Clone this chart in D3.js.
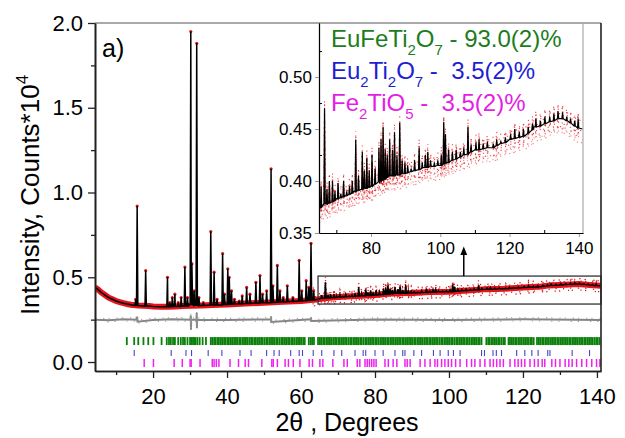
<!DOCTYPE html>
<html>
<head>
<meta charset="utf-8">
<script src="https://cdnjs.cloudflare.com/ajax/libs/d3/7.8.5/d3.min.js"></script>
<style>
  body { margin: 0; background: #fff; }
  text { font-family: "Liberation Sans", Arial, sans-serif; }
</style>
</head>
<body>
<svg id="chart" width="625" height="438"></svg>
<script>
//==================== data (2theta in degrees, intensity in counts*10^4) ====================
var bgX = [4.3, 5, 6, 7, 8, 9, 10, 11, 12, 13, 14, 16, 19, 20, 22, 24, 26, 28, 33, 36, 40, 45, 50, 55, 60, 64,
  67, 70, 75, 80, 85, 90, 95, 100, 105, 110, 115, 120, 125, 127, 130, 135, 138, 141.1];
var bgY = [0.44, 0.43, 0.41, 0.395, 0.38, 0.37, 0.36, 0.353, 0.347, 0.342, 0.338, 0.333, 0.33, 0.327, 0.326, 0.326, 0.328, 0.33, 0.333, 0.336, 0.34, 0.345, 0.35, 0.355, 0.36, 0.368,
  0.378, 0.383, 0.39, 0.395, 0.405, 0.407, 0.413, 0.415, 0.422, 0.43, 0.432, 0.44, 0.445, 0.452, 0.455, 0.46, 0.455, 0.45];

// [position, top, base]
var peaks = [
  [15.3, 0.37, 0.334], [15.7, 0.92, 0.334], [18.0, 0.54, 0.33], [23.9, 0.50, 0.326], [24.5, 0.35, 0.326],
  [25.2, 0.38, 0.327], [25.9, 0.40, 0.327], [26.8, 0.35, 0.328], [27.6, 0.38, 0.329], [28.6, 0.56, 0.33],
  [29.3, 0.38, 0.33], [30.2, 1.95, 0.34], [30.5, 0.58, 0.34], [31.1, 0.42, 0.335], [31.8, 1.88, 0.335],
  [32.4, 0.38, 0.333], [33.6, 0.35, 0.333], [35.6, 0.77, 0.336], [36.5, 0.53, 0.336], [37.3, 0.37, 0.337],
  [38.8, 0.64, 0.338], [39.3, 0.40, 0.339], [40.2, 0.55, 0.34], [40.6, 0.50, 0.34], [41.2, 0.42, 0.341],
  [42.0, 0.37, 0.342], [43.3, 0.36, 0.343], [44.1, 0.39, 0.344], [45.3, 0.44, 0.345], [46.2, 0.40, 0.346],
  [47.8, 0.47, 0.348], [48.9, 0.51, 0.349], [49.6, 0.40, 0.35], [50.7, 0.42, 0.35], [51.9, 1.14, 0.351],
  [52.4, 0.45, 0.352], [53.6, 0.57, 0.353], [54.3, 0.42, 0.354], [55.2, 0.38, 0.355], [56.3, 0.45, 0.356],
  [57.8, 0.38, 0.358], [59.5, 0.60, 0.36], [60.2, 0.42, 0.36], [61.4, 0.48, 0.362], [62.1, 0.44, 0.364],
  [62.7, 0.70, 0.365], [63.4, 0.42, 0.367],
  [65.6, 0.395, 0.375], [66.6, 0.47, 0.378], [67.3, 0.392, 0.378], [68.0, 0.40, 0.379], [68.9, 0.40, 0.38],
  [69.6, 0.39, 0.381], [70.5, 0.398, 0.383], [71.3, 0.388, 0.384], [72.1, 0.40, 0.385], [73.0, 0.39, 0.386],
  [73.8, 0.395, 0.387], [74.6, 0.40, 0.388], [75.6, 0.44, 0.39], [76.4, 0.405, 0.391], [77.5, 0.428, 0.392],
  [78.1, 0.41, 0.393], [78.8, 0.422, 0.393], [79.5, 0.41, 0.394], [80.3, 0.425, 0.395], [81.2, 0.412, 0.397],
  [82.3, 0.432, 0.399], [82.9, 0.44, 0.4], [83.5, 0.452, 0.401], [84.1, 0.43, 0.402], [84.7, 0.425, 0.403],
  [85.4, 0.44, 0.405], [86.2, 0.43, 0.405], [86.8, 0.447, 0.405], [87.5, 0.425, 0.406], [88.3, 0.456, 0.406],
  [89.0, 0.42, 0.407], [89.8, 0.418, 0.407], [90.6, 0.415, 0.408], [91.6, 0.412, 0.409], [92.6, 0.42, 0.41],
  [93.9, 0.432, 0.411], [94.8, 0.418, 0.412], [95.7, 0.425, 0.413], [96.4, 0.428, 0.413], [97.2, 0.42, 0.414],
  [98.3, 0.418, 0.414], [99.3, 0.42, 0.415], [100.3, 0.425, 0.415], [101.0, 0.457, 0.416], [101.5, 0.445, 0.417],
  [102.4, 0.43, 0.418], [103.5, 0.428, 0.42], [104.6, 0.43, 0.421], [105.8, 0.428, 0.423], [106.8, 0.432, 0.425],
  [108.0, 0.452, 0.426], [108.9, 0.435, 0.428], [110.3, 0.437, 0.43], [111.2, 0.44, 0.43], [112.4, 0.436, 0.431],
  [113.6, 0.438, 0.432], [115.3, 0.436, 0.432], [116.3, 0.44, 0.434], [117.5, 0.438, 0.436], [118.8, 0.442, 0.437],
  [120.3, 0.445, 0.44], [121.5, 0.45, 0.441], [122.8, 0.447, 0.442], [124.0, 0.45, 0.443], [125.4, 0.452, 0.446],
  [126.6, 0.455, 0.449], [127.6, 0.46, 0.452], [128.9, 0.458, 0.453], [130.2, 0.462, 0.455], [131.6, 0.462, 0.457],
  [132.8, 0.465, 0.458], [134.0, 0.467, 0.46], [135.3, 0.466, 0.46], [136.5, 0.462, 0.458], [137.6, 0.46, 0.456],
  [138.8, 0.458, 0.453], [139.8, 0.46, 0.451]
];

// obs - calc difference
var diffX = [4.3, 8, 12, 15.6, 15.7, 15.8, 20, 25, 30.15, 30.2, 30.25, 30.3, 31.75, 31.8, 31.85, 31.9,
  40, 51.85, 51.9, 51.95, 62.65, 62.7, 62.75, 80, 100, 120, 141];
var diffY = [0.25, 0.246, 0.252, 0.25, 0.268, 0.238, 0.248, 0.252, 0.25, 0.275, 0.19, 0.25, 0.25, 0.29, 0.20, 0.25,
  0.248, 0.252, 0.27, 0.236, 0.252, 0.264, 0.242, 0.251, 0.248, 0.252, 0.248];

// Bragg positions
var greenTicks = [12.9, 14.9, 16.0, 17.4, 18.7, 20.1, 22.3, 23.7, 24.3, 24.8, 25.4, 25.9, 26.8, 27.5, 28.1, 28.6, 29.3,
  30.0, 30.4, 30.8, 31.1, 31.5, 32.0, 32.6, 33.4, 34.3,
  35.6, 36.0, 36.5, 36.9, 37.4, 37.8, 38.3, 38.7, 39.2, 39.6, 40.1, 40.5, 41.0, 41.4, 41.9, 42.4, 42.8, 43.3, 43.7,
  44.2, 44.6, 45.1, 45.5, 46.0, 46.5, 46.9, 47.4, 47.8, 48.3, 48.7, 49.2, 49.6, 50.1, 50.6, 51.0, 51.5, 51.9, 52.4,
  52.8, 53.3, 53.7, 54.2, 54.7, 55.1, 55.6, 56.0, 56.5, 56.9, 57.4, 57.8, 58.3, 58.8, 59.2, 59.7, 60.1, 60.6, 61.0,
  62.1, 62.6, 63.0, 63.5, 64.6, 65.1, 65.5, 66.0, 66.4, 66.9, 67.3, 67.8, 68.2, 68.7, 69.2, 69.6, 70.1, 70.5, 71.0,
  71.4, 71.9, 72.3, 72.8, 73.3, 73.7, 74.2, 74.6, 75.1, 75.5, 76.0, 76.4, 76.9, 77.4, 77.8, 78.3, 78.7, 79.2, 79.6,
  80.1, 80.5, 81.0, 81.5, 81.9, 82.4, 82.8, 83.3, 83.7, 84.2, 84.6, 85.1, 85.6, 86.0, 86.5, 86.9, 87.4, 87.8, 88.3,
  88.7, 89.2, 89.7, 90.1, 90.6, 91.0, 91.5, 91.9, 92.4, 92.8, 93.3, 93.8, 94.2, 94.7, 95.1, 95.6, 96.0, 96.5, 96.9,
  97.4, 97.9, 98.3, 98.8, 99.2, 99.7, 100.1, 100.6, 101.0, 101.5, 102.0, 102.4, 102.9, 103.3, 103.8, 104.2, 104.7,
  105.1, 105.6, 106.1, 106.5, 107.0, 107.4, 107.9, 108.3, 108.8, 110.1, 110.6, 111.0, 111.5, 111.9, 112.4, 112.8,
  113.3, 113.7, 114.2, 114.7, 115.1, 116.1, 116.5, 117.0, 117.4, 117.9, 118.3, 118.8, 119.2, 119.7, 120.2, 120.6,
  121.1, 121.5, 122.0, 122.4, 122.9, 123.8, 124.3, 124.7, 125.2, 125.6, 126.1, 126.5, 127.0, 127.5, 127.9, 128.4,
  128.8, 129.3, 129.7, 130.2, 130.6, 131.1, 131.6, 132.0, 132.5, 132.9, 133.4, 133.8, 134.3, 134.7, 135.2, 135.7,
  136.1, 136.6, 137.0, 137.5, 137.9, 138.4, 138.8, 139.3, 139.8, 140.2, 140.7];
var blueTicks = [14.9, 24.9, 28.9, 30.4, 34.9, 38.6, 43.5, 46.5, 50.7, 52.7, 54.1, 57.2, 59.5, 60.4, 63.3, 65.6, 68.9,
  71.0, 74.6, 76.8, 77.5, 80.0, 82.2, 85.4, 87.5, 88.1, 90.5, 92.6, 95.8, 97.6, 99.8, 101.2, 103.0, 108.8, 109.6,
  111.9, 112.8, 114.2, 118.3, 120.5, 122.4, 124.1, 126.7, 127.3, 133.3, 138.0];
var magentaTicks = [17.6, 20.1, 25.7, 27.9, 30.0, 30.3, 32.7, 36.0, 36.5, 37.1, 37.8, 40.8, 43.1, 44.9, 45.8, 49.4,
  52.1, 52.5, 53.6, 55.7, 56.6, 57.9, 59.7, 62.2, 63.1, 65.1, 65.9, 68.6, 71.6, 72.5, 75.2, 75.9, 77.3, 77.9, 78.5,
  79.1, 79.7, 80.3, 82.7, 83.6, 84.9, 85.9, 88.1, 88.7, 89.5, 92.2, 93.5, 94.9, 96.2, 96.9, 98.0, 98.9, 99.8, 100.7,
  101.8, 103.0, 104.8, 106.1, 107.0, 108.4, 109.7, 111.1, 112.0, 112.9, 113.8, 114.7, 116.5, 117.8, 118.7, 119.6,
  120.5, 121.9, 123.1, 124.1, 125.2, 125.9, 127.8, 128.8, 130.0, 131.4, 132.4, 133.3, 134.5, 135.9, 137.2, 138.6,
  139.9, 140.8];

var phases = [
  [["EuFeTi", 0], ["2", 1], ["O", 0], ["7", 1], [" - 93.0(2)%", 0]],
  [["Eu", 0], ["2", 1], ["Ti", 0], ["2", 1], ["O", 0], ["7", 1], [" -\u00a0\u00a03.5(2)%", 0]],
  [["Fe", 0], ["2", 1], ["TiO", 0], ["5", 1], [" -\u00a0\u00a03.5(2)%", 0]]
];
var phaseColors = ["#1c7d1c", "#1e1ed2", "#e41ee4"];

var yTicks = [0, 0.5, 1.0, 1.5, 2.0];
var xTicks = [20, 40, 60, 80, 100, 120, 140];
var insetYTicks = [0.35, 0.40, 0.45, 0.50];
var insetXTicks = [80, 100, 120, 140];

//==================== scales ====================
var svg = d3.select("#chart");
var x = d3.scaleLinear().domain([4.3, 141.1]).range([95, 601]);
var y = d3.scaleLinear().domain([-0.053, 2.0]).range([371, 23]);
var xi = d3.scaleLinear().domain([65, 141.2]).range([319, 583]);
var yi = d3.scaleLinear().domain([0.35, 0.552]).range([233, 23]);

// profile = background knots + peak triangles, sorted by 2theta
var profile = [];
for (var i = 0; i < bgX.length; i++) profile.push([bgX[i], bgY[i]]);
peaks.forEach(function(p) {
  profile.push([p[0] - 0.18, p[2]], [p[0], p[1]], [p[0] + 0.18, p[2]]);
});
profile.sort(function(a, b) { return a[0] - b[0]; });
var background = bgX.map(function(v, i) { return [v, bgY[i]]; });
var diff = diffX.map(function(v, i) { return [v, diffY[i]]; });

var defs = svg.append("defs");
defs.append("clipPath").attr("id", "clipMain").append("rect")
  .attr("x", 95).attr("y", 23).attr("width", 506).attr("height", 348);
defs.append("clipPath").attr("id", "clipInset").append("rect")
  .attr("x", 319).attr("y", 23).attr("width", 264).attr("height", 210);
defs.append("marker").attr("id", "arrow").attr("viewBox", "0 0 10 10")
  .attr("refX", 5).attr("refY", 5).attr("markerWidth", 6).attr("markerHeight", 7)
  .attr("orient", "auto").append("path").attr("d", "M0,1 L10,5 L0,9 Z").attr("fill", "#000");

var dashes = ["1.2 5 1.2 9", "1.2 7 1.2 4", "1.2 11 1.2 6", "1.2 6 1.2 13", "1.2 8", "1.2 4 1.2 10"];

//==================== main plot ====================
var mainLine = d3.line().x(function(d) { return x(d[0]); }).y(function(d) { return y(d[1]); });
var plot = svg.append("g").attr("clip-path", "url(#clipMain)");

// observed (red): band along the background, dotted scatter, dots on peak tops
plot.append("path").attr("d", mainLine(background))
  .attr("fill", "none").attr("stroke", "#e3141c").attr("stroke-width", 6);
var hiRange = profile.filter(function(d) { return d[0] > 63; });
[-5, -3, -1, 2, 4, 6].forEach(function(o, k) {
  plot.append("path").attr("d", mainLine(hiRange))
    .attr("transform", "translate(0," + o + ")")
    .attr("fill", "none").attr("stroke", "#e3141c").attr("stroke-width", 1.3)
    .attr("stroke-dasharray", dashes[k]).attr("stroke-dashoffset", k * 3);
});
plot.selectAll("circle.obs").data(peaks.filter(function(p) { return p[0] < 64; }))
  .enter().append("circle").attr("class", "obs")
  .attr("cx", function(d) { return x(d[0]); }).attr("cy", function(d) { return y(d[1]); })
  .attr("r", 1.6).attr("fill", "#e3141c");

// calculated (black)
plot.append("path").attr("d", mainLine(profile))
  .attr("fill", "none").attr("stroke", "#000").attr("stroke-width", 1.5);

// difference (gray), ragged edge from two dotted copies
plot.append("path").attr("d", mainLine(diff))
  .attr("fill", "none").attr("stroke", "#858585").attr("stroke-width", 2);
[-1.6, 1.6].forEach(function(o, k) {
  plot.append("path").attr("d", mainLine(diff))
    .attr("transform", "translate(0," + o + ")")
    .attr("fill", "none").attr("stroke", "#9a9a9a").attr("stroke-width", 1.1)
    .attr("stroke-dasharray", dashes[k + 1]);
});

// Bragg ticks
function braggRow(list, y0, y1, color, w) {
  plot.selectAll(null).data(list).enter().append("line")
    .attr("x1", function(d) { return x(d); }).attr("x2", function(d) { return x(d); })
    .attr("y1", y(y0)).attr("y2", y(y1))
    .attr("stroke", color).attr("stroke-width", w);
}
braggRow(greenTicks, 0.147, 0.10, "#0a800a", 1.8);
braggRow(blueTicks, 0.071, 0.035, "#4646c0", 1.1);
braggRow(magentaTicks, 0.018, -0.03, "#f020f0", 1.5);

// zoom box + arrow
svg.append("rect").attr("x", x(64.6)).attr("y", y(0.507))
  .attr("width", x(141.1) - x(64.6)).attr("height", y(0.342) - y(0.507))
  .attr("fill", "none").attr("stroke", "#333").attr("stroke-width", 1.3);
svg.append("line").attr("x1", x(104)).attr("x2", x(104)).attr("y1", y(0.507)).attr("y2", y(0.655))
  .attr("stroke", "#000").attr("stroke-width", 1.5).attr("marker-end", "url(#arrow)");

// axes
var axL = svg.append("g").attr("transform", "translate(95,0)")
  .call(d3.axisLeft(y).tickValues(yTicks).tickFormat(d3.format(".1f")).tickSize(7).tickPadding(5).tickSizeOuter(0));
svg.append("g").attr("transform", "translate(95,0)")
  .call(d3.axisLeft(y).tickValues([0.25, 0.75, 1.25, 1.75]).tickFormat("").tickSize(4).tickSizeOuter(0));
var axB = svg.append("g").attr("transform", "translate(0,371)")
  .call(d3.axisBottom(x).tickValues(xTicks).tickSize(7).tickPadding(10).tickSizeOuter(0));
svg.append("g").attr("transform", "translate(0,371)")
  .call(d3.axisBottom(x).tickValues([10, 30, 50, 70, 90, 110, 130]).tickFormat("").tickSize(4).tickSizeOuter(0));
svg.selectAll(".domain").attr("stroke", "#222").attr("stroke-width", 1.6);
svg.selectAll(".tick line").attr("stroke", "#222").attr("stroke-width", 1.3);
axL.selectAll("text").attr("font-size", 22).attr("fill", "#000");
axB.selectAll("text").attr("font-size", 22).attr("fill", "#000");

// top / right frame
svg.append("line").attr("x1", 95).attr("x2", 601).attr("y1", 23).attr("y2", 23)
  .attr("stroke", "#555").attr("stroke-width", 1.2);
svg.append("line").attr("x1", 601).attr("x2", 601).attr("y1", 23).attr("y2", 371)
  .attr("stroke", "#222").attr("stroke-width", 1.6);

//==================== inset ====================
var insetLine = d3.line().x(function(d) { return xi(d[0]); }).y(function(d) { return yi(d[1]); });
var insetData = profile.filter(function(d) { return d[0] >= 64; });
var ins = svg.append("g").attr("clip-path", "url(#clipInset)");
[-8, -5, -2, 2, 5, 8, 11, 14].forEach(function(o, k) {
  ins.append("path").attr("d", insetLine(insetData))
    .attr("transform", "translate(0," + o + ")")
    .attr("fill", "none").attr("stroke", "#e8262a").attr("stroke-width", 1.1)
    .attr("stroke-opacity", o > 10 ? 0.55 : 0.85)
    .attr("stroke-dasharray", dashes[k % dashes.length]).attr("stroke-dashoffset", k * 4);
});
ins.append("path").attr("d", insetLine(insetData))
  .attr("fill", "none").attr("stroke", "#000").attr("stroke-width", 1.2);

var iaxL = svg.append("g").attr("transform", "translate(319,0)")
  .call(d3.axisLeft(yi).tickValues(insetYTicks).tickFormat(d3.format(".2f")).tickSize(4).tickPadding(3).tickSizeOuter(0));
svg.append("g").attr("transform", "translate(319,0)")
  .call(d3.axisLeft(yi).tickValues([0.375, 0.425, 0.475, 0.525]).tickFormat("").tickSize(-3).tickSizeOuter(0));
var iaxB = svg.append("g").attr("transform", "translate(0,233)")
  .call(d3.axisBottom(xi).tickValues(insetXTicks).tickSize(4).tickPadding(5).tickSizeOuter(0));
svg.append("g").attr("transform", "translate(0,233)")
  .call(d3.axisBottom(xi).tickValues([70, 90, 110, 130]).tickFormat("").tickSize(-3).tickSizeOuter(0));
iaxL.select(".domain").attr("stroke", "#333").attr("stroke-width", 1.3);
iaxB.select(".domain").attr("stroke", "#aaa").attr("stroke-width", 1.2);
iaxL.selectAll(".tick line").attr("stroke", "#999");
iaxB.selectAll(".tick line").attr("stroke", "#999");
svg.append("line").attr("x1", 583).attr("x2", 583).attr("y1", 23).attr("y2", 233)
  .attr("stroke", "#aaa").attr("stroke-width", 1.2);
iaxL.selectAll("text").attr("font-size", 17).attr("fill", "#000");
iaxB.selectAll("text").attr("font-size", 17).attr("fill", "#000");

// legend
phases.forEach(function(segs, r) {
  var t = svg.append("text").attr("x", 331).attr("y", 47 + r * 32)
    .attr("font-size", 24).attr("fill", phaseColors[r]);
  var shifted = false;
  segs.forEach(function(s) {
    var ts = t.append("tspan").text(s[0]);
    if (s[1]) ts.attr("font-size", 15);
    if (s[1] && !shifted) { ts.attr("dy", 8); shifted = true; }
    else if (!s[1] && shifted) { ts.attr("dy", -8); shifted = false; }
  });
});

//==================== labels ====================
svg.append("text").attr("x", 102).attr("y", 57).attr("font-size", 25).text("a)");

var yl = svg.append("text").attr("transform", "translate(39,195) rotate(-90)")
  .attr("text-anchor", "middle").attr("font-size", 26);
yl.append("tspan").text("Intensity, Counts*10");
yl.append("tspan").text("4").attr("font-size", 17).attr("dy", -11);

svg.append("text").attr("x", 347).attr("y", 431).attr("text-anchor", "middle")
  .attr("font-size", 25).text("2\u03b8 , Degrees");
</script>
</body>
</html>
